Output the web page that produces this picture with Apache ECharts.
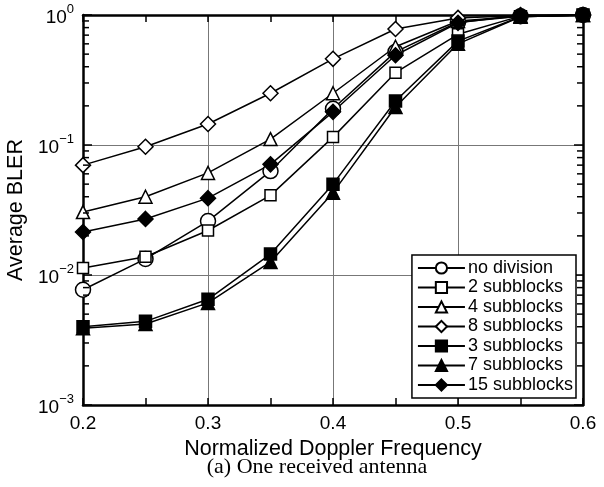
<!DOCTYPE html>
<html>
<head>
<meta charset="utf-8">
<script src="https://cdn.jsdelivr.net/npm/echarts@6/dist/echarts.min.js"></script>
<style>
  html, body { margin: 0; padding: 0; background: #fff; }
  #chart { width: 604px; height: 487px; }
</style>
</head>
<body>
<div id="chart"></div>
<script>
// normalized doppler frequency
var doppler = [0.2, 0.25, 0.3, 0.35, 0.4, 0.45, 0.5, 0.55, 0.6];

var noDivision  = [0.0077, 0.0133, 0.026, 0.063, 0.19, 0.52, 0.88, 0.98, 1.0];
var sub2        = [0.0113, 0.0138, 0.022, 0.041, 0.115, 0.36, 0.71, 0.98, 1.0];
var sub4        = [0.0305, 0.040, 0.061, 0.111, 0.25, 0.57, 0.90, 0.98, 1.0];
var sub8        = [0.070, 0.097, 0.145, 0.25, 0.46, 0.78, 0.95, 0.99, 1.0];
var sub3        = [0.0040, 0.0044, 0.0065, 0.0145, 0.050, 0.218, 0.63, 0.97, 1.0];
var sub7        = [0.0039, 0.0042, 0.0061, 0.0126, 0.043, 0.196, 0.60, 0.97, 1.0];
var sub15       = [0.0214, 0.027, 0.039, 0.071, 0.18, 0.49, 0.87, 1.0, 1.0];

var seriesNames = ['no division', '2 subblocks', '4 subblocks', '8 subblocks',
                   '3 subblocks', '7 subblocks', '15 subblocks'];

// minor tick values for the log axis (2..9 in each decade)
var minorTickVals = [];
[0.001, 0.01, 0.1].forEach(function (d) {
  for (var m = 2; m <= 9; m++) minorTickVals.push(+(m * d).toPrecision(3));
});

function pairs(ys) {
  return doppler.map(function (x, i) { return [x, ys[i]]; });
}

function mk(name, ys, symbol, size, filled) {
  return {
    name: name,
    type: 'line',
    data: pairs(ys),
    symbol: symbol,
    symbolSize: size,
    showAllSymbol: true,
    lineStyle: { color: '#000', width: 1.5 },
    itemStyle: { color: filled ? '#000' : '#fff', borderColor: '#000', borderWidth: 1.5 },
    emphasis: { disabled: true },
    z: 3
  };
}

var font = 'Liberation Sans, Arial, Helvetica, sans-serif';

var myChart = echarts.init(document.getElementById('chart'));

var option = {
  backgroundColor: '#fff',
  animation: false,
  grid: { left: 83, right: 21, top: 15, bottom: 82, outerBoundsMode: 'none', containLabel: false },
  title: {
    text: '(a) One received antenna',
    left: 312, top: 451, textAlign: 'center',
    textStyle: { fontFamily: 'Liberation Serif, Times New Roman, serif', fontSize: 22, fontWeight: 'normal', color: '#000' }
  },
  legend: {
    data: seriesNames,
    orient: 'vertical',
    right: 28, bottom: 89,
    itemWidth: 47, itemHeight: 14, itemGap: 1.5,
    padding: [4, 3, 4, 5],
    backgroundColor: '#fff',
    borderColor: '#000', borderWidth: 1.5, borderRadius: 0,
    textStyle: { fontFamily: font, fontSize: 18, lineHeight: 18, color: '#000', padding: [0, 0, 0, -2] }
  },
  xAxis: [{
    type: 'value',
    min: 0.2, max: 0.6, interval: 0.1,
    name: 'Normalized Doppler Frequency',
    nameLocation: 'middle', nameGap: 29,
    nameTextStyle: { fontFamily: font, fontSize: 21.5, color: '#000' },
    axisLine: { onZero: false, lineStyle: { color: '#000', width: 2.5 } },
    axisTick: { inside: true, length: 7, lineStyle: { color: '#000', width: 1.5 } },
    minorTick: { show: true, splitNumber: 2, length: 7, lineStyle: { color: '#000', width: 1.5 } },
    axisLabel: { fontFamily: font, fontSize: 19, color: '#000', margin: 9,
                 formatter: function (v) { return v.toFixed(1); } },
    splitLine: { show: true, lineStyle: { color: '#777', width: 1 } }
  }, {
    type: 'value', position: 'top',
    min: 0.2, max: 0.6, interval: 0.1,
    axisLine: { onZero: false, lineStyle: { color: '#000', width: 2.5 } },
    axisTick: { inside: true, length: 7, lineStyle: { color: '#000', width: 1.5 } },
    minorTick: { show: true, splitNumber: 2, length: 7, lineStyle: { color: '#000', width: 1.5 } },
    axisLabel: { show: false },
    splitLine: { show: false }
  }],
  yAxis: [{
    type: 'log', logBase: 10,
    min: 0.001, max: 1,
    name: 'Average BLER',
    nameLocation: 'middle', nameGap: 54, nameRotate: 90,
    nameTextStyle: { fontFamily: font, fontSize: 21.5, color: '#000' },
    axisLine: { onZero: false, lineStyle: { color: '#000', width: 2.5 } },
    axisTick: { inside: true, length: 9, lineStyle: { color: '#000', width: 1.5 } },
    axisLabel: {
      margin: 9,
      formatter: function (v) {
        var e = Math.round(Math.log10(v));
        return '{b|10}{s|' + (e < 0 ? '\u2212' + (-e) : e) + '}';
      },
      rich: {
        b: { fontFamily: font, fontSize: 19, color: '#000', padding: [6, 0, 0, 0] },
        s: { fontFamily: font, fontSize: 13, color: '#000', verticalAlign: 'top', padding: [0, 0, 6, 0] }
      }
    },
    splitLine: { show: true, lineStyle: { color: '#777', width: 1 } }
  }, {
    type: 'log', logBase: 10, position: 'right',
    min: 0.001, max: 1,
    axisLine: { onZero: false, lineStyle: { color: '#000', width: 2.5 } },
    axisTick: { inside: true, length: 9, lineStyle: { color: '#000', width: 1.5 } },
    axisLabel: { show: false },
    splitLine: { show: false }
  }],
  series: [
    {
      name: 'minorTicks',
      type: 'custom',
      silent: true,
      clip: false,
      z: 5,
      data: minorTickVals.map(function (v) { return [0.2, v]; }),
      renderItem: function (params, api) {
        var l = api.coord([0.2, api.value(1)]);
        var r = api.coord([0.6, api.value(1)]);
        var s = { stroke: '#000', lineWidth: 1.5 };
        return {
          type: 'group',
          children: [
            { type: 'line', shape: { x1: l[0], y1: l[1], x2: l[0] + 6, y2: l[1] }, style: s },
            { type: 'line', shape: { x1: r[0], y1: r[1], x2: r[0] - 6, y2: r[1] }, style: s }
          ]
        };
      }
    },
    mk(seriesNames[0], noDivision, 'circle', 15, false),
    mk(seriesNames[1], sub2, 'rect', 11, false),
    mk(seriesNames[2], sub4, 'triangle', 13, false),
    mk(seriesNames[3], sub8, 'diamond', 15, false),
    mk(seriesNames[4], sub3, 'rect', 12, true),
    mk(seriesNames[5], sub7, 'triangle', 13, true),
    mk(seriesNames[6], sub15, 'diamond', 15, true)
  ]
};

myChart.setOption(option);
</script>
</body>
</html>
